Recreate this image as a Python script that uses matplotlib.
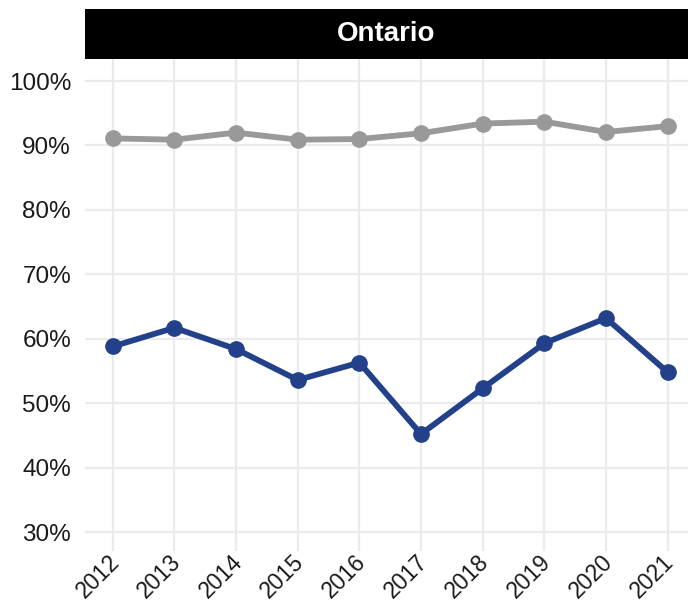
import matplotlib.pyplot as plt
from matplotlib.ticker import FuncFormatter
from matplotlib.transforms import ScaledTranslation

years = [2012, 2013, 2014, 2015, 2016, 2017, 2018, 2019, 2020, 2021]
gray_vals = [91.1, 90.9, 92.0, 90.9, 91.0, 91.9, 93.4, 93.7, 92.1, 93.0]
blue_vals = [58.8, 61.7, 58.4, 53.6, 56.3, 45.2, 52.3, 59.3, 63.2, 54.8]
y_ticks = [30, 40, 50, 60, 70, 80, 90, 100]
panel_title = "Ontario"

plt.rcParams['font.family'] = ['Liberation Sans', 'DejaVu Sans']

fig = plt.figure(figsize=(6.88, 6.04), dpi=100)
ax = fig.add_axes([0.1235, 0.0877, 0.8765, 0.8154])

ax.plot(years, gray_vals, color='#999999', lw=4.2, marker='o', ms=11, zorder=3)
ax.plot(years, blue_vals, color='#22418A', lw=4.2, marker='o', ms=11, zorder=3)

ax.set_xlim(2012 - 0.45, 2021 + 0.33)
ax.set_ylim(27.05, 103.5)
ax.set_yticks(y_ticks)
ax.yaxis.set_major_formatter(FuncFormatter(lambda v, p: f"{v:.0f}%"))
ax.set_xticks(years)
ax.set_xticklabels([])
for lab in ax.get_yticklabels():
    lab.set_fontsize(17.5)
    lab.set_color('#1a1a1a')

# rotated year labels, drawn as text so they can sit just right of each tick
trans = ax.get_xaxis_transform() + ScaledTranslation(3 / 100, -7 / 100, fig.dpi_scale_trans)
for yr in years:
    ax.text(yr, 0, str(yr), transform=trans, rotation=45, ha='right', va='center',
            rotation_mode='anchor', fontsize=16.5, color='#1a1a1a', clip_on=False)

ax.grid(True, color='#EBEBEB', lw=1.6)
ax.set_axisbelow(True)
ax.tick_params(axis='x', length=0, pad=0)
ax.tick_params(axis='y', length=0, pad=10)
for s in ax.spines.values():
    s.set_visible(False)

# facet strip
strip = fig.add_axes([0.1235, 0.9031, 0.8765, 0.0828])
strip.set_facecolor('black')
strip.set_xticks([])
strip.set_yticks([])
for s in strip.spines.values():
    s.set_visible(False)
strip.text(0.5, 0.5, panel_title, color='white', fontsize=20, fontweight='bold',
           ha='center', va='center', transform=strip.transAxes)

fig.savefig('out.png', dpi=100)
